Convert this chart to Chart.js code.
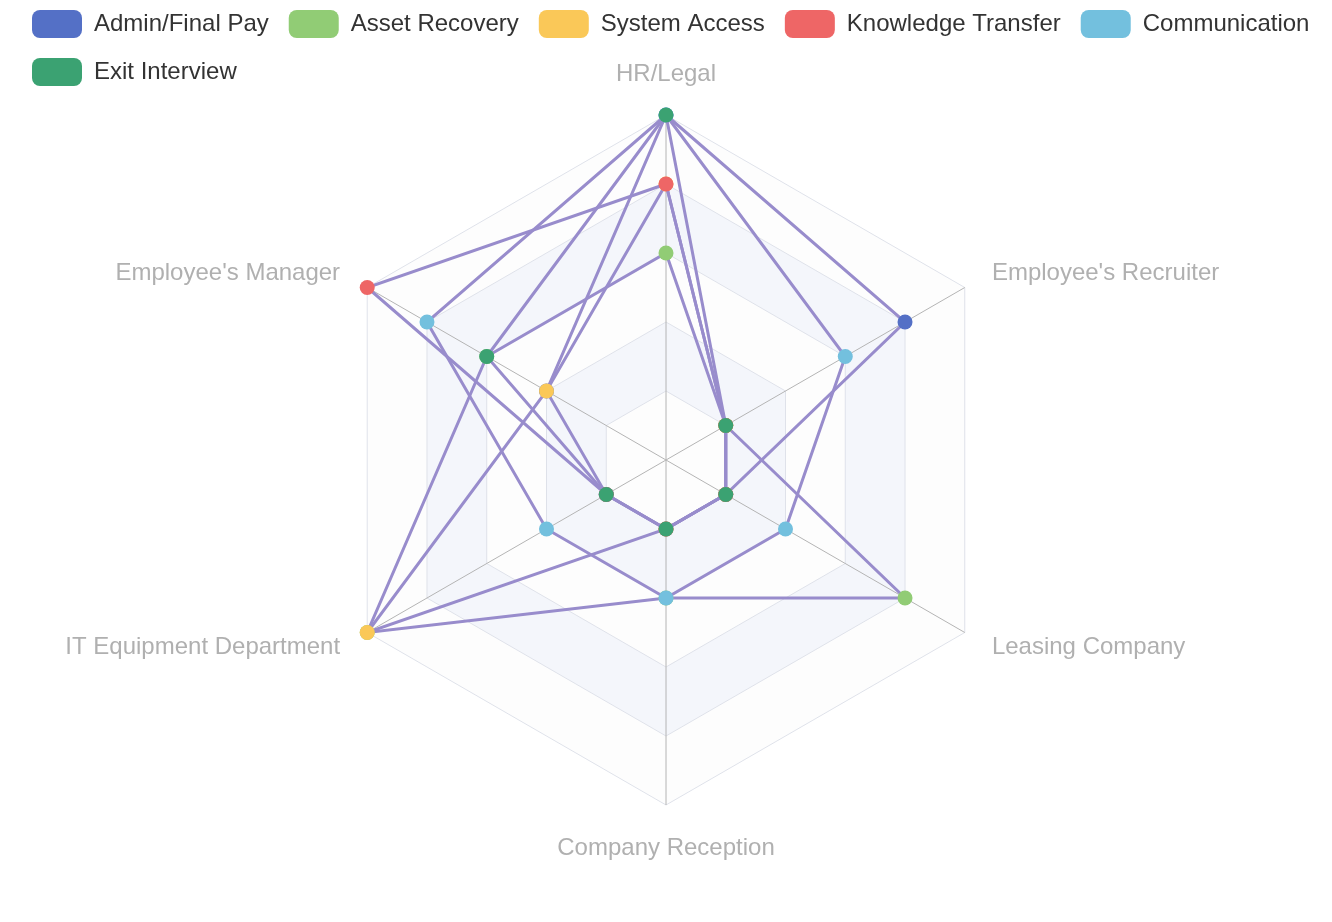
<!DOCTYPE html>
<html>
<head>
<meta charset="utf-8">
<title>Offboarding radar</title>
<script src="https://cdn.jsdelivr.net/npm/chart.js@4.4.1/dist/chart.umd.min.js"></script>
<style>
  html, body { margin: 0; padding: 0; background: #fff; }
  #wrap { width: 1332px; height: 922px; position: relative; }
</style>
</head>
<body>
<div id="wrap"><canvas id="radarChart"></canvas></div>
<script>
// axes, clockwise from the top
var axisLabels = ['HR/Legal', "Employee's Recruiter", 'Leasing Company', 'Company Reception', 'IT Equipment Department', "Employee's Manager"];

var seriesNames = ['Admin/Final Pay', 'Asset Recovery', 'System Access', 'Knowledge Transfer', 'Communication', 'Exit Interview'];
var seriesColors = ['#5470c6', '#91cc75', '#fac858', '#ee6666', '#73c0de', '#3ba272'];

var adminFinalPay = [5, 4, 1, 1, 1, 2];
var assetRecovery = [3, 1, 4, 2, 5, 3];
var systemAccess = [4, 1, 1, 1, 5, 2];
var knowledgeTransfer = [4, 1, 1, 1, 1, 5];
var communication = [5, 3, 2, 2, 2, 4];
var exitInterview = [5, 1, 1, 1, 1, 3];

var scaleMax = 5;
var lineColor = 'rgb(152,140,204)';

var seriesValues = [adminFinalPay, assetRecovery, systemAccess, knowledgeTransfer, communication, exitInterview];

Chart.defaults.font.family = '"Liberation Sans", Arial, Helvetica, sans-serif';

// shaded rings behind the grid
var splitArea = {
  id: 'splitArea',
  beforeDraw: function(chart) {
    var scale = chart.scales.r;
    var ctx = chart.ctx;
    var n = axisLabels.length;
    ctx.save();
    for (var k = 0; k < scaleMax; k++) {
      ctx.beginPath();
      for (var i = 0; i < n; i++) {
        var p = scale.getPointPositionForValue(i, k + 1);
        if (i === 0) ctx.moveTo(p.x, p.y); else ctx.lineTo(p.x, p.y);
      }
      ctx.closePath();
      for (var j = 0; j < n; j++) {
        var q = scale.getPointPositionForValue(j, k);
        if (j === 0) ctx.moveTo(q.x, q.y); else ctx.lineTo(q.x, q.y);
      }
      ctx.closePath();
      ctx.fillStyle = k % 2 === 0 ? 'rgba(250,250,250,0.3)' : 'rgba(210,219,238,0.25)';
      ctx.fill('evenodd');
    }
    ctx.restore();
  }
};

// axis names, placed like the original (middle of the text at the side axes)
var axisNames = {
  id: 'axisNames',
  beforeDatasetsDraw: function(chart) {
    var scale = chart.scales.r;
    var ctx = chart.ctx;
    ctx.save();
    ctx.font = '24px "Liberation Sans", Arial, sans-serif';
    ctx.fillStyle = '#b0b0b0';
    axisLabels.forEach(function(name, i) {
      var p = scale.getPointPosition(i, scale.drawingArea + 29);
      var dx = p.x - scale.xCenter;
      if (Math.abs(dx) < 1) {
        ctx.textAlign = 'center';
        ctx.textBaseline = p.y < scale.yCenter ? 'bottom' : 'top';
        ctx.fillText(name, p.x, p.y < scale.yCenter ? p.y : p.y + 2);
      } else {
        ctx.textAlign = dx > 0 ? 'left' : 'right';
        ctx.textBaseline = 'middle';
        ctx.fillText(name, p.x + (dx > 0 ? 2 : -2), p.y);
      }
    });
    ctx.restore();
  }
};

// legend sits over the top of the plot, like the original
var legendSpace = {
  id: 'legendSpace',
  beforeInit: function(chart) {
    var origFit = chart.legend.fit;
    chart.legend.fit = function() {
      this.maxWidth = this.maxWidth + 40;
      origFit.call(this);
      this.height = 125;
    };
  },
  afterLayout: function(chart) {
    // let the first row run a little wider than the chart padding
    chart.legend.right = chart.legend.left + chart.legend.width + 40;
  }
};

var datasets = seriesNames.map(function(name, i) {
  return {
    label: name,
    data: seriesValues[i],
    order: seriesNames.length - i,
    fill: false,
    tension: 0,
    borderColor: lineColor,
    borderWidth: 3,
    backgroundColor: seriesColors[i],
    pointBackgroundColor: seriesColors[i],
    pointBorderColor: seriesColors[i],
    pointBorderWidth: 0,
    pointRadius: 7.5,
    pointHoverRadius: 7.5
  };
});

new Chart('radarChart', {
  type: 'radar',
  data: {
    labels: axisLabels,
    datasets: datasets
  },
  options: {
    responsive: true,
    maintainAspectRatio: false,
    animation: false,
    layout: {
      padding: {top: -10, left: 12, right: 12, bottom: 117}
    },
    plugins: {
      legend: {
        position: 'top',
        align: 'start',
        labels: {
          boxWidth: 50,
          boxHeight: 28,
          padding: 20,
          color: '#333',
          font: {size: 24},
          useBorderRadius: true,
          borderRadius: 8,
          sort: function(a, b) { return a.datasetIndex - b.datasetIndex; },
          generateLabels: function(chart) {
            var items = Chart.defaults.plugins.legend.labels.generateLabels(chart);
            items.forEach(function(it) {
              it.fillStyle = seriesColors[it.datasetIndex];
              it.strokeStyle = seriesColors[it.datasetIndex];
              it.lineWidth = 0;
            });
            return items;
          }
        }
      },
      tooltip: {enabled: false}
    },
    scales: {
      r: {
        min: 0,
        max: scaleMax,
        ticks: {display: false, stepSize: 1},
        grid: {color: '#dfe2ea', lineWidth: 1},
        angleLines: {color: '#b4b4b4', lineWidth: 1},
        pointLabels: {display: false}
      }
    }
  },
  plugins: [splitArea, axisNames, legendSpace]
});
</script>
</body>
</html>
